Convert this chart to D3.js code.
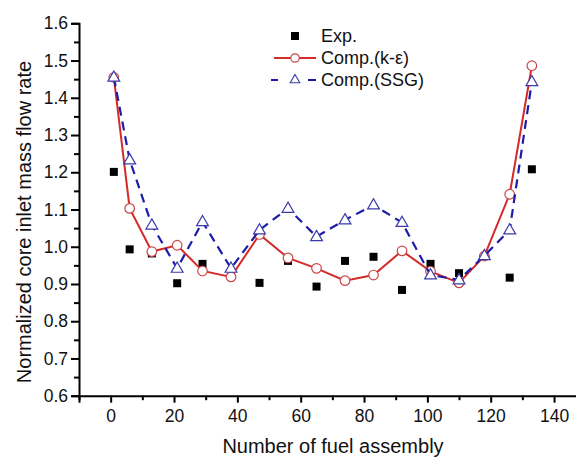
<!DOCTYPE html>
<meta charset="utf-8">
<script src="https://d3js.org/d3.v7.min.js"></script>
<style>
body { margin: 0; background: #fff; }
svg { display: block; }
text { font-family: 'Liberation Sans', Arial, sans-serif; fill: #111; }
.axis path, .axis line { stroke: #000; stroke-width: 2; }
.axis text { font-size: 17.5px; }
.title { font-size: 20px; }
.legend text { font-size: 18px; }
</style>
<svg width="576" height="457"></svg>
<script>
const assembly = [1, 6, 13, 21, 29, 38, 47, 56, 65, 74, 83, 92, 101, 110, 118, 126, 133];
const kEps = [1.455, 1.103, 0.987, 1.004, 0.935, 0.919, 1.033, 0.970, 0.942, 0.909, 0.924, 0.989, 0.934, 0.903, 0.975, 1.141, 1.486];
const ssg = [1.455, 1.233, 1.058, 0.942, 1.067, 0.942, 1.045, 1.103, 1.027, 1.072, 1.112, 1.065, 0.924, 0.911, 0.976, 1.045, 1.443];
const expX = [1, 6, 13, 21, 29, 47, 56, 65, 74, 83, 92, 101, 110, 126, 133];
const expY = [1.201, 0.993, 0.982, 0.902, 0.954, 0.903, 0.962, 0.893, 0.962, 0.973, 0.884, 0.954, 0.929, 0.917, 1.208];
const xTicks = [0, 20, 40, 60, 80, 100, 120, 140];
const yTicks = [0.6, 0.7, 0.8, 0.9, 1.0, 1.1, 1.2, 1.3, 1.4, 1.5, 1.6];

const svg = d3.select('svg');

const x = d3.scaleLinear().domain([-10, 150]).range([79, 585.7]);
const y = d3.scaleLinear().domain([0.6, 1.6]).range([395.7, 23.3]);

// minor ticks
const xMinor = d3.range(-10, 151, 20);
const yMinor = d3.range(0.65, 1.6, 0.1);

svg.append('g')
  .attr('class', 'axis')
  .attr('transform', `translate(0, ${y(0.6)})`)
  .call(d3.axisBottom(x).tickValues(xMinor).tickSize(4.5).tickFormat(''))
  .select('.domain').remove();

svg.append('g')
  .attr('class', 'axis')
  .attr('transform', `translate(0, ${y(0.6)})`)
  .call(d3.axisBottom(x).tickValues(xTicks).tickSizeOuter(0).tickSize(7).tickPadding(7));

svg.append('g')
  .attr('class', 'axis')
  .attr('transform', `translate(${x(-10)}, 0)`)
  .call(d3.axisLeft(y).tickValues(yMinor).tickSize(5).tickFormat(''))
  .select('.domain').remove();

svg.append('g')
  .attr('class', 'axis')
  .attr('transform', `translate(${x(-10)}, 0)`)
  .call(d3.axisLeft(y).tickValues(yTicks).tickSizeOuter(0).tickSize(8).tickPadding(3).tickFormat(d3.format('.1f')));

// axis titles
svg.append('text')
  .attr('class', 'title')
  .attr('x', 333)
  .attr('y', 453)
  .attr('text-anchor', 'middle')
  .text('Number of fuel assembly');

svg.append('text')
  .attr('class', 'title')
  .attr('transform', 'translate(31, 222) rotate(-90)')
  .attr('text-anchor', 'middle')
  .text('Normalized core inlet mass flow rate');

// experiment squares
svg.append('g').selectAll('rect')
  .data(expX)
  .join('rect')
  .attr('x', (d) => x(d) - 4)
  .attr('y', (d, i) => y(expY[i]) - 4)
  .attr('width', 8)
  .attr('height', 8)
  .attr('fill', '#000');

// k-epsilon
const red = '#d42a2a';
const line = d3.line().x((d) => x(d[0])).y((d) => y(d[1]));

svg.append('path')
  .datum(assembly.map((d, i) => [d, kEps[i]]))
  .attr('d', line)
  .attr('fill', 'none')
  .attr('stroke', red)
  .attr('stroke-width', 2);

svg.append('g').selectAll('circle')
  .data(assembly)
  .join('circle')
  .attr('cx', (d) => x(d))
  .attr('cy', (d, i) => y(kEps[i]))
  .attr('r', 4.8)
  .attr('fill', '#fff')
  .attr('stroke', '#c84848')
  .attr('stroke-width', 1.2);

// SSG
const blue = '#1c1ca6';
svg.append('path')
  .datum(assembly.map((d, i) => [d, ssg[i]]))
  .attr('d', line)
  .attr('fill', 'none')
  .attr('stroke', blue)
  .attr('stroke-width', 2.2)
  .attr('stroke-dasharray', '9 6');

const tri = d3.symbol().type(d3.symbolTriangle).size(60);
svg.append('g').selectAll('path')
  .data(assembly)
  .join('path')
  .attr('d', tri)
  .attr('transform', (d, i) => `translate(${x(d)}, ${y(ssg[i]) + 0.5})`)
  .attr('fill', '#fff')
  .attr('stroke', '#3a3aa8')
  .attr('stroke-width', 1.2);

// legend
const legend = svg.append('g').attr('class', 'legend');

legend.append('rect')
  .attr('x', 291).attr('y', 32).attr('width', 8).attr('height', 8).attr('fill', '#000');
legend.append('text').attr('x', 321).attr('y', 42).text('Exp.');

legend.append('line')
  .attr('x1', 274).attr('x2', 316).attr('y1', 58).attr('y2', 58)
  .attr('stroke', red).attr('stroke-width', 2);
legend.append('circle')
  .attr('cx', 295).attr('cy', 58).attr('r', 4.2)
  .attr('fill', '#fff').attr('stroke', '#c84848').attr('stroke-width', 1.2);
legend.append('text').attr('x', 321).attr('y', 64).text('Comp.(k-ε)');

legend.append('line')
  .attr('x1', 271).attr('x2', 316).attr('y1', 80).attr('y2', 80)
  .attr('stroke', blue).attr('stroke-width', 2).attr('stroke-dasharray', '7 30 7 0');
legend.append('path')
  .attr('d', d3.symbol().type(d3.symbolTriangle).size(40))
  .attr('transform', 'translate(295, 80)')
  .attr('fill', '#fff').attr('stroke', '#3a3aa8').attr('stroke-width', 1.1);
legend.append('text').attr('x', 321).attr('y', 86).text('Comp.(SSG)');
</script>
